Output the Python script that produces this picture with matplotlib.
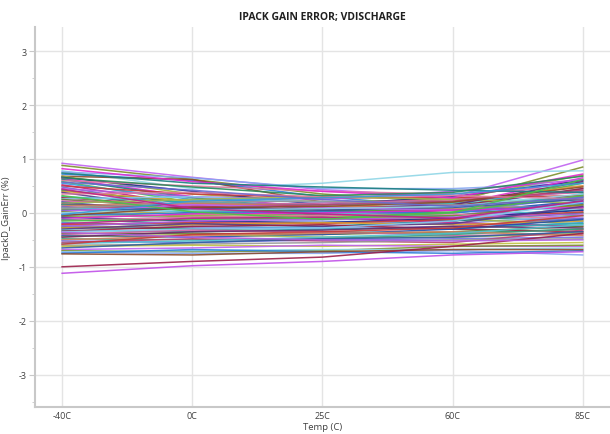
import matplotlib
matplotlib.use("Agg")
import matplotlib.pyplot as plt
from matplotlib.ticker import MultipleLocator

# categories on the x axis
temps = ["-40C", "0C", "25C", "60C", "85C"]

# one row per device: gain error (%) at each temperature
gain_err = [
    [0.92, 0.66, 0.43, 0.30, 0.98],
    [0.88, 0.62, 0.35, 0.20, 0.85],
    [0.78, 0.45, 0.55, 0.75, 0.78],
    [0.76, 0.65, 0.45, 0.45, 0.55],
    [0.72, 0.60, 0.30, 0.10, 0.45],
    [0.68, 0.62, 0.20, 0.15, 0.25],
    [0.68, 0.35, 0.20, 0.25, 0.70],
    [0.66, 0.40, 0.15, 0.30, 0.60],
    [0.64, 0.30, 0.10, 0.15, 0.65],
    [0.62, 0.28, 0.05, 0.00, 0.35],
    [0.60, 0.50, 0.40, 0.35, 0.50],
    [0.58, 0.20, 0.00, 0.10, 0.55],
    [0.55, 0.25, 0.20, 0.20, 0.40],
    [0.52, 0.15, -0.05, 0.05, 0.30],
    [0.50, 0.35, 0.28, 0.28, 0.32],
    [0.48, 0.10, -0.08, -0.05, 0.20],
    [0.45, 0.30, 0.25, 0.40, 0.62],
    [0.42, 0.18, 0.12, 0.05, -0.05],
    [0.40, 0.22, 0.10, 0.20, 0.50],
    [0.38, 0.05, -0.10, -0.15, 0.10],
    [0.30, 0.20, 0.15, 0.18, 0.28],
    [0.28, 0.12, 0.05, 0.12, 0.45],
    [0.26, 0.30, 0.20, 0.10, 0.05],
    [0.25, 0.08, 0.02, 0.05, 0.15],
    [0.22, 0.15, 0.18, 0.25, 0.38],
    [0.20, 0.00, -0.05, 0.00, 0.22],
    [0.18, 0.25, 0.30, 0.25, 0.18],
    [0.16, 0.10, 0.08, 0.15, 0.58],
    [0.15, 0.05, -0.02, -0.08, -0.15],
    [0.13, 0.18, 0.12, 0.08, 0.12],
    [0.12, -0.05, -0.10, 0.00, 0.30],
    [0.10, 0.12, 0.15, 0.22, 0.42],
    [0.09, 0.02, 0.00, -0.05, 0.05],
    [0.08, 0.20, 0.22, 0.15, 0.08],
    [0.06, -0.02, -0.05, -0.10, 0.00],
    [0.05, 0.08, 0.05, 0.10, 0.25],
    [0.03, 0.15, 0.10, 0.05, -0.10],
    [0.02, -0.08, -0.12, -0.05, 0.15],
    [0.00, 0.05, 0.08, 0.12, 0.35],
    [-0.02, -0.10, -0.15, -0.20, -0.05],
    [-0.04, 0.00, 0.02, 0.00, 0.18],
    [-0.05, 0.10, 0.12, 0.20, 0.48],
    [-0.07, -0.05, -0.08, -0.12, -0.20],
    [-0.08, -0.15, -0.18, -0.10, 0.05],
    [-0.10, -0.02, 0.00, 0.05, 0.10],
    [-0.12, -0.20, -0.25, -0.15, 0.00],
    [-0.14, -0.08, -0.05, -0.02, -0.12],
    [-0.15, -0.12, -0.10, 0.02, 0.32],
    [-0.18, -0.25, -0.28, -0.30, -0.18],
    [-0.20, -0.10, -0.08, -0.18, -0.25],
    [-0.22, -0.18, -0.20, -0.12, 0.02],
    [-0.24, -0.28, -0.30, -0.25, -0.10],
    [-0.25, -0.15, -0.12, -0.08, -0.02],
    [-0.27, -0.30, -0.35, -0.38, -0.30],
    [-0.28, -0.22, -0.18, -0.22, -0.15],
    [-0.30, -0.20, -0.25, -0.20, 0.12],
    [-0.32, -0.35, -0.30, -0.28, -0.20],
    [-0.34, -0.25, -0.22, -0.30, -0.35],
    [-0.35, -0.30, -0.28, -0.15, 0.20],
    [-0.38, -0.38, -0.40, -0.35, -0.25],
    [-0.40, -0.32, -0.35, -0.42, -0.40],
    [-0.42, -0.45, -0.40, -0.30, -0.12],
    [-0.44, -0.40, -0.45, -0.45, -0.38],
    [-0.45, -0.35, -0.32, -0.25, -0.28],
    [-0.48, -0.50, -0.48, -0.40, -0.30],
    [-0.50, -0.42, -0.38, -0.35, -0.42],
    [-0.52, -0.55, -0.50, -0.48, -0.45],
    [-0.55, -0.48, -0.52, -0.55, -0.32],
    [-0.57, -0.52, -0.45, -0.38, -0.22],
    [-0.60, -0.58, -0.55, -0.50, -0.48],
    [-0.62, -0.60, -0.62, -0.58, -0.55],
    [-0.65, -0.55, -0.48, -0.45, -0.35],
    [-0.68, -0.65, -0.60, -0.62, -0.62],
    [-0.70, -0.72, -0.70, -0.62, -0.60],
    [-0.72, -0.70, -0.68, -0.68, -0.65],
    [-0.73, -0.75, -0.75, -0.70, -0.78],
    [-0.75, -0.68, -0.72, -0.75, -0.70],
    [-0.76, -0.78, -0.72, -0.68, -0.68],
    [-1.00, -0.90, -0.82, -0.62, -0.38],
    [-1.12, -0.98, -0.90, -0.78, -0.72],
    [0.82, 0.58, 0.40, 0.28, 0.72],
    [0.74, 0.55, 0.48, 0.42, 0.38],
    [0.35, 0.38, 0.30, 0.32, 0.26],
    [0.32, 0.02, -0.12, 0.00, 0.62],
    [-0.03, 0.22, 0.28, 0.35, 0.55],
    [0.44, 0.08, -0.02, -0.10, 0.22],
    [-0.58, -0.40, -0.35, -0.28, -0.05],
    [0.57, 0.42, 0.25, 0.12, 0.28],
    [-0.36, -0.45, -0.50, -0.52, -0.50],
    [0.65, 0.48, 0.32, 0.38, 0.68],
]

# first few colours are the ones that stand out in the original
line_colors = [
    "#c062f0", "#7d8f2c", "#8fd6e6", "#86a8f0", "#2e7fd6", "#8b4a2b",
    "#9bb43c", "#1c2a8c", "#e02ad0", "#1a7f7f", "#e07aa0", "#4cc04a",
    "#3a9ad8", "#c0208a", "#c83a3a", "#6a6ad0", "#b05ee0", "#2a8a5a",
    "#d8a030", "#5a3a8a", "#30b0b0", "#a02040", "#88c8f0", "#607830",
    "#d060a0", "#2050b0", "#a0b850", "#6a2a6a", "#40a080", "#d08060",
    "#7070e0", "#b84070", "#50c0d0", "#989898", "#c0c040", "#3060a0",
]

plt.rcParams["font.family"] = ["Open Sans", "DejaVu Sans"]
plt.rcParams["axes.unicode_minus"] = False
fig = plt.figure(figsize=(6.1, 4.35), dpi=100)
ax = fig.add_axes([0.057, 0.062, 0.943, 0.874])

x = list(range(len(temps)))
for i, row in enumerate(gain_err):
    if i == 78:
        c = "#9c1f4a"
    elif i == 79:
        c = "#c050e8"
    else:
        c = line_colors[i % len(line_colors)]
    ax.plot(x, row, color=c, lw=1.1, alpha=0.9)

ax.set_xlim(-0.21, 4.21)
ax.set_ylim(-3.6, 3.45)
ax.set_xticks(x)
ax.set_xticklabels(temps, fontsize=6.5, color="#404040")
ax.yaxis.set_major_locator(MultipleLocator(1))
ax.yaxis.set_minor_locator(MultipleLocator(0.5))
ax.tick_params(axis="y", labelsize=6.5, labelcolor="#404040")
ax.tick_params(axis="x", length=0, pad=3)
ax.tick_params(axis="y", which="major", length=4, color="#c8c8c8", pad=2)
ax.tick_params(axis="y", which="minor", length=2, color="#c8c8c8")
ax.grid(True, which="major", color="#e4e4e4", lw=1)
ax.set_axisbelow(True)

for s in ("top", "right"):
    ax.spines[s].set_visible(False)
for s in ("left", "bottom"):
    ax.spines[s].set_color("#c8c8c8")
    ax.spines[s].set_linewidth(1.5)

ax.set_xlabel("Temp (C)", fontsize=6.8, color="#404040", labelpad=1)
ax.set_ylabel("IpackD_GainErr (%)", fontsize=6.8, color="#404040", labelpad=5)
ax.set_title("IPACK GAIN ERROR; VDISCHARGE", fontsize=7.5, fontweight="bold",
             color="#202020", pad=6)

fig.savefig("out.png", dpi=100)
